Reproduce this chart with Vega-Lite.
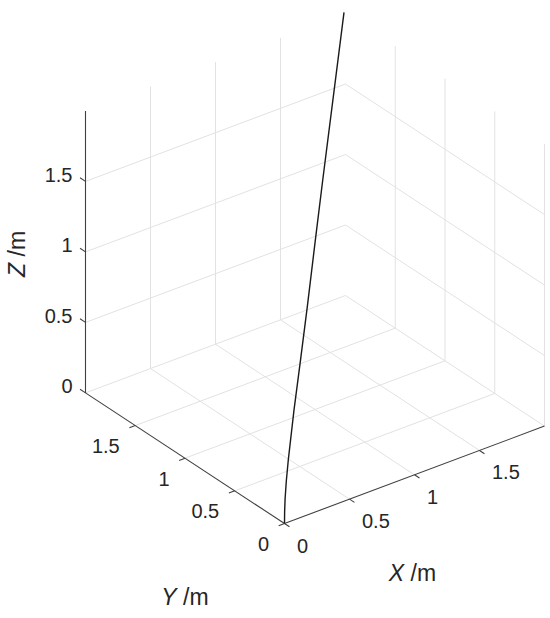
{
  "$schema": "https://vega.github.io/schema/vega-lite/v6.json",
  "width": 550,
  "height": 618,
  "autosize": {"type": "fit", "contains": "padding"},
  "padding": 0,
  "background": "white",
  "config": {"view": {"stroke": null}},
  "datasets": {
    "grid": [
      {"x1": 0.5, "y1": 0, "z1": 0, "x2": 0.5, "y2": 2, "z2": 0},
      {"x1": 1, "y1": 0, "z1": 0, "x2": 1, "y2": 2, "z2": 0},
      {"x1": 1.5, "y1": 0, "z1": 0, "x2": 1.5, "y2": 2, "z2": 0},
      {"x1": 0, "y1": 0.5, "z1": 0, "x2": 2, "y2": 0.5, "z2": 0},
      {"x1": 0, "y1": 1, "z1": 0, "x2": 2, "y2": 1, "z2": 0},
      {"x1": 0, "y1": 1.5, "z1": 0, "x2": 2, "y2": 1.5, "z2": 0},
      {"x1": 0, "y1": 2, "z1": 0, "x2": 2, "y2": 2, "z2": 0},
      {"x1": 2, "y1": 0, "z1": 0, "x2": 2, "y2": 2, "z2": 0},
      {"x1": 0.5, "y1": 2, "z1": 0, "x2": 0.5, "y2": 2, "z2": 2},
      {"x1": 1, "y1": 2, "z1": 0, "x2": 1, "y2": 2, "z2": 2},
      {"x1": 1.5, "y1": 2, "z1": 0, "x2": 1.5, "y2": 2, "z2": 2},
      {"x1": 0, "y1": 2, "z1": 0.5, "x2": 2, "y2": 2, "z2": 0.5},
      {"x1": 0, "y1": 2, "z1": 1, "x2": 2, "y2": 2, "z2": 1},
      {"x1": 0, "y1": 2, "z1": 1.5, "x2": 2, "y2": 2, "z2": 1.5},
      {"x1": 2, "y1": 0, "z1": 0, "x2": 2, "y2": 0, "z2": 2},
      {"x1": 2, "y1": 0.5, "z1": 0, "x2": 2, "y2": 0.5, "z2": 2},
      {"x1": 2, "y1": 1, "z1": 0, "x2": 2, "y2": 1, "z2": 2},
      {"x1": 2, "y1": 1.5, "z1": 0, "x2": 2, "y2": 1.5, "z2": 2},
      {"x1": 2, "y1": 0, "z1": 0.5, "x2": 2, "y2": 2, "z2": 0.5},
      {"x1": 2, "y1": 0, "z1": 1, "x2": 2, "y2": 2, "z2": 1},
      {"x1": 2, "y1": 0, "z1": 1.5, "x2": 2, "y2": 2, "z2": 1.5}
    ],
    "axes": [
      {"x1": 0, "y1": 0, "z1": 0, "x2": 2, "y2": 0, "z2": 0},
      {"x1": 0, "y1": 0, "z1": 0, "x2": 0, "y2": 2, "z2": 0},
      {"x1": 0, "y1": 2, "z1": 0, "x2": 0, "y2": 2, "z2": 2},
      {"x1": 0, "y1": 0, "z1": 0, "x2": 0, "y2": -0.05, "z2": 0},
      {"x1": 0.5, "y1": 0, "z1": 0, "x2": 0.5, "y2": -0.05, "z2": 0},
      {"x1": 1, "y1": 0, "z1": 0, "x2": 1, "y2": -0.05, "z2": 0},
      {"x1": 1.5, "y1": 0, "z1": 0, "x2": 1.5, "y2": -0.05, "z2": 0},
      {"x1": 0, "y1": 0, "z1": 0, "x2": -0.045, "y2": 0, "z2": 0},
      {"x1": 0, "y1": 0.5, "z1": 0, "x2": -0.045, "y2": 0.5, "z2": 0},
      {"x1": 0, "y1": 1, "z1": 0, "x2": -0.045, "y2": 1, "z2": 0},
      {"x1": 0, "y1": 1.5, "z1": 0, "x2": -0.045, "y2": 1.5, "z2": 0},
      {"x1": 0, "y1": 2, "z1": 0, "x2": 0, "y2": 2.055, "z2": 0},
      {"x1": 0, "y1": 2, "z1": 0.5, "x2": 0, "y2": 2.055, "z2": 0.5},
      {"x1": 0, "y1": 2, "z1": 1, "x2": 0, "y2": 2.055, "z2": 1},
      {"x1": 0, "y1": 2, "z1": 1.5, "x2": 0, "y2": 2.055, "z2": 1.5}
    ],
    "ticklabels": [
      {"axis": "x", "x": 0, "y": 0, "z": 0, "label": "0"},
      {"axis": "x", "x": 0.5, "y": 0, "z": 0, "label": "0.5"},
      {"axis": "x", "x": 1, "y": 0, "z": 0, "label": "1"},
      {"axis": "x", "x": 1.5, "y": 0, "z": 0, "label": "1.5"},
      {"axis": "y", "x": 0, "y": 0, "z": 0, "label": "0"},
      {"axis": "y", "x": 0, "y": 0.5, "z": 0, "label": "0.5"},
      {"axis": "y", "x": 0, "y": 1, "z": 0, "label": "1"},
      {"axis": "y", "x": 0, "y": 1.5, "z": 0, "label": "1.5"},
      {"axis": "z", "x": 0, "y": 2, "z": 0, "label": "0"},
      {"axis": "z", "x": 0, "y": 2, "z": 0.5, "label": "0.5"},
      {"axis": "z", "x": 0, "y": 2, "z": 1, "label": "1"},
      {"axis": "z", "x": 0, "y": 2, "z": 1.5, "label": "1.5"}
    ],
    "titles": [
      {"axis": "x", "x": 1, "y": 0, "z": 0, "sym": "X", "unit": "/m"},
      {"axis": "y", "x": 0, "y": 1, "z": 0, "sym": "Y", "unit": "/m"},
      {"axis": "z", "x": 0, "y": 2, "z": 1, "sym": "Z", "unit": "/m"}
    ],
    "curve": [
      {"i": 0, "x": 0, "y": 0, "z": 0},
      {"i": 1, "x": 0.004, "y": 0.004, "z": 0.08},
      {"i": 2, "x": 0.02, "y": 0.02, "z": 0.16},
      {"i": 3, "x": 0.06, "y": 0.06, "z": 0.255},
      {"i": 4, "x": 0.125, "y": 0.125, "z": 0.351},
      {"i": 5, "x": 0.311, "y": 0.311, "z": 0.553},
      {"i": 6, "x": 0.525, "y": 0.525, "z": 0.734},
      {"i": 7, "x": 0.748, "y": 0.748, "z": 0.933},
      {"i": 8, "x": 1.026, "y": 1.026, "z": 1.207},
      {"i": 9, "x": 1.262, "y": 1.262, "z": 1.43},
      {"i": 10, "x": 1.656, "y": 1.656, "z": 1.783},
      {"i": 11, "x": 1.951, "y": 1.951, "z": 2.047}
    ]
  },
  "layer": [
    {
      "data": {"name": "grid"},
      "transform": [
        {"calculate": "284.5 + 130*datum.x1 - 99.5*datum.y1", "as": "px1"},
        {"calculate": "94.5 + 48.7*datum.x1 + 65.3*datum.y1 + 141*datum.z1", "as": "py1"},
        {"calculate": "284.5 + 130*datum.x2 - 99.5*datum.y2", "as": "px2"},
        {"calculate": "94.5 + 48.7*datum.x2 + 65.3*datum.y2 + 141*datum.z2", "as": "py2"}
      ],
      "mark": {"type": "rule", "color": "#e2e2e2", "strokeWidth": 1},
      "encoding": {
        "x": {"field": "px1", "type": "quantitative", "scale": {"domain": [0, 550], "nice": false, "zero": false}, "axis": null},
        "y": {"field": "py1", "type": "quantitative", "scale": {"domain": [0, 618], "nice": false, "zero": false}, "axis": null},
        "x2": {"field": "px2"},
        "y2": {"field": "py2"}
      }
    },
    {
      "data": {"name": "axes"},
      "transform": [
        {"calculate": "284.5 + 130*datum.x1 - 99.5*datum.y1", "as": "px1"},
        {"calculate": "94.5 + 48.7*datum.x1 + 65.3*datum.y1 + 141*datum.z1", "as": "py1"},
        {"calculate": "284.5 + 130*datum.x2 - 99.5*datum.y2", "as": "px2"},
        {"calculate": "94.5 + 48.7*datum.x2 + 65.3*datum.y2 + 141*datum.z2", "as": "py2"}
      ],
      "mark": {"type": "rule", "color": "#404040", "strokeWidth": 1.1},
      "encoding": {
        "x": {"field": "px1", "type": "quantitative", "scale": {"domain": [0, 550], "nice": false, "zero": false}, "axis": null},
        "y": {"field": "py1", "type": "quantitative", "scale": {"domain": [0, 618], "nice": false, "zero": false}, "axis": null},
        "x2": {"field": "px2"},
        "y2": {"field": "py2"}
      }
    },
    {
      "data": {"name": "curve"},
      "transform": [
        {"calculate": "284.5 + 130*datum.x - 99.5*datum.y", "as": "px"},
        {"calculate": "94.5 + 48.7*datum.x + 65.3*datum.y + 141*datum.z", "as": "py"}
      ],
      "mark": {"type": "line", "color": "#1a1a1a", "strokeWidth": 1.4, "interpolate": "linear"},
      "encoding": {
        "x": {"field": "px", "type": "quantitative", "scale": {"domain": [0, 550], "nice": false, "zero": false}, "axis": null},
        "y": {"field": "py", "type": "quantitative", "scale": {"domain": [0, 618], "nice": false, "zero": false}, "axis": null},
        "order": {"field": "i"}
      }
    },
    {
      "data": {"name": "ticklabels"},
      "transform": [
        {"filter": "datum.axis == 'x'"},
        {"calculate": "284.5 + 130*datum.x - 99.5*datum.y", "as": "px"},
        {"calculate": "94.5 + 48.7*datum.x + 65.3*datum.y + 141*datum.z", "as": "py"}
      ],
      "mark": {"type": "text", "align": "left", "baseline": "middle", "dx": 12.5, "dy": 23, "font": "Liberation Sans", "fontSize": 20, "color": "#262626"},
      "encoding": {
        "x": {"field": "px", "type": "quantitative", "scale": {"domain": [0, 550], "nice": false, "zero": false}, "axis": null},
        "y": {"field": "py", "type": "quantitative", "scale": {"domain": [0, 618], "nice": false, "zero": false}, "axis": null},
        "text": {"field": "label"}
      }
    },
    {
      "data": {"name": "ticklabels"},
      "transform": [
        {"filter": "datum.axis == 'y'"},
        {"calculate": "284.5 + 130*datum.x - 99.5*datum.y", "as": "px"},
        {"calculate": "94.5 + 48.7*datum.x + 65.3*datum.y + 141*datum.z", "as": "py"}
      ],
      "mark": {"type": "text", "align": "right", "baseline": "middle", "dx": -15.5, "dy": 21.5, "font": "Liberation Sans", "fontSize": 20, "color": "#262626"},
      "encoding": {
        "x": {"field": "px", "type": "quantitative", "scale": {"domain": [0, 550], "nice": false, "zero": false}, "axis": null},
        "y": {"field": "py", "type": "quantitative", "scale": {"domain": [0, 618], "nice": false, "zero": false}, "axis": null},
        "text": {"field": "label"}
      }
    },
    {
      "data": {"name": "ticklabels"},
      "transform": [
        {"filter": "datum.axis == 'z'"},
        {"calculate": "284.5 + 130*datum.x - 99.5*datum.y", "as": "px"},
        {"calculate": "94.5 + 48.7*datum.x + 65.3*datum.y + 141*datum.z", "as": "py"}
      ],
      "mark": {"type": "text", "align": "right", "baseline": "middle", "dx": -13, "dy": -5.5, "font": "Liberation Sans", "fontSize": 20, "color": "#262626"},
      "encoding": {
        "x": {"field": "px", "type": "quantitative", "scale": {"domain": [0, 550], "nice": false, "zero": false}, "axis": null},
        "y": {"field": "py", "type": "quantitative", "scale": {"domain": [0, 618], "nice": false, "zero": false}, "axis": null},
        "text": {"field": "label"}
      }
    },
    {
      "data": {"name": "titles"},
      "transform": [
        {"filter": "datum.axis == 'x'"},
        {"calculate": "284.5 + 130*datum.x - 99.5*datum.y", "as": "px"},
        {"calculate": "94.5 + 48.7*datum.x + 65.3*datum.y + 141*datum.z", "as": "py"}
      ],
      "mark": {"type": "text", "align": "right", "baseline": "middle", "dx": -10.5, "dy": 99, "font": "Liberation Sans", "fontSize": 23, "fontStyle": "italic", "color": "#262626"},
      "encoding": {
        "x": {"field": "px", "type": "quantitative", "scale": {"domain": [0, 550], "nice": false, "zero": false}, "axis": null},
        "y": {"field": "py", "type": "quantitative", "scale": {"domain": [0, 618], "nice": false, "zero": false}, "axis": null},
        "text": {"field": "sym"}
      }
    },
    {
      "data": {"name": "titles"},
      "transform": [
        {"filter": "datum.axis == 'x'"},
        {"calculate": "284.5 + 130*datum.x - 99.5*datum.y", "as": "px"},
        {"calculate": "94.5 + 48.7*datum.x + 65.3*datum.y + 141*datum.z", "as": "py"}
      ],
      "mark": {"type": "text", "align": "left", "baseline": "middle", "dx": -4, "dy": 99, "font": "Liberation Sans", "fontSize": 23, "color": "#262626"},
      "encoding": {
        "x": {"field": "px", "type": "quantitative", "scale": {"domain": [0, 550], "nice": false, "zero": false}, "axis": null},
        "y": {"field": "py", "type": "quantitative", "scale": {"domain": [0, 618], "nice": false, "zero": false}, "axis": null},
        "text": {"field": "unit"}
      }
    },
    {
      "data": {"name": "titles"},
      "transform": [
        {"filter": "datum.axis == 'y'"},
        {"calculate": "284.5 + 130*datum.x - 99.5*datum.y", "as": "px"},
        {"calculate": "94.5 + 48.7*datum.x + 65.3*datum.y + 141*datum.z", "as": "py"}
      ],
      "mark": {"type": "text", "align": "right", "baseline": "middle", "dx": -8.5, "dy": 139.3, "font": "Liberation Sans", "fontSize": 23, "fontStyle": "italic", "color": "#262626"},
      "encoding": {
        "x": {"field": "px", "type": "quantitative", "scale": {"domain": [0, 550], "nice": false, "zero": false}, "axis": null},
        "y": {"field": "py", "type": "quantitative", "scale": {"domain": [0, 618], "nice": false, "zero": false}, "axis": null},
        "text": {"field": "sym"}
      }
    },
    {
      "data": {"name": "titles"},
      "transform": [
        {"filter": "datum.axis == 'y'"},
        {"calculate": "284.5 + 130*datum.x - 99.5*datum.y", "as": "px"},
        {"calculate": "94.5 + 48.7*datum.x + 65.3*datum.y + 141*datum.z", "as": "py"}
      ],
      "mark": {"type": "text", "align": "left", "baseline": "middle", "dx": -2, "dy": 139.3, "font": "Liberation Sans", "fontSize": 23, "color": "#262626"},
      "encoding": {
        "x": {"field": "px", "type": "quantitative", "scale": {"domain": [0, 550], "nice": false, "zero": false}, "axis": null},
        "y": {"field": "py", "type": "quantitative", "scale": {"domain": [0, 618], "nice": false, "zero": false}, "axis": null},
        "text": {"field": "unit"}
      }
    },
    {
      "data": {"name": "titles"},
      "transform": [
        {"filter": "datum.axis == 'z'"},
        {"calculate": "284.5 + 130*datum.x - 99.5*datum.y", "as": "px"},
        {"calculate": "94.5 + 48.7*datum.x + 65.3*datum.y + 141*datum.z", "as": "py"}
      ],
      "mark": {"type": "text", "align": "right", "baseline": "middle", "angle": 270, "dx": -11, "dy": -67.2, "font": "Liberation Sans", "fontSize": 23, "fontStyle": "italic", "color": "#262626"},
      "encoding": {
        "x": {"field": "px", "type": "quantitative", "scale": {"domain": [0, 550], "nice": false, "zero": false}, "axis": null},
        "y": {"field": "py", "type": "quantitative", "scale": {"domain": [0, 618], "nice": false, "zero": false}, "axis": null},
        "text": {"field": "sym"}
      }
    },
    {
      "data": {"name": "titles"},
      "transform": [
        {"filter": "datum.axis == 'z'"},
        {"calculate": "284.5 + 130*datum.x - 99.5*datum.y", "as": "px"},
        {"calculate": "94.5 + 48.7*datum.x + 65.3*datum.y + 141*datum.z", "as": "py"}
      ],
      "mark": {"type": "text", "align": "left", "baseline": "middle", "angle": 270, "dx": -4.5, "dy": -67.2, "font": "Liberation Sans", "fontSize": 23, "color": "#262626"},
      "encoding": {
        "x": {"field": "px", "type": "quantitative", "scale": {"domain": [0, 550], "nice": false, "zero": false}, "axis": null},
        "y": {"field": "py", "type": "quantitative", "scale": {"domain": [0, 618], "nice": false, "zero": false}, "axis": null},
        "text": {"field": "unit"}
      }
    }
  ]
}
